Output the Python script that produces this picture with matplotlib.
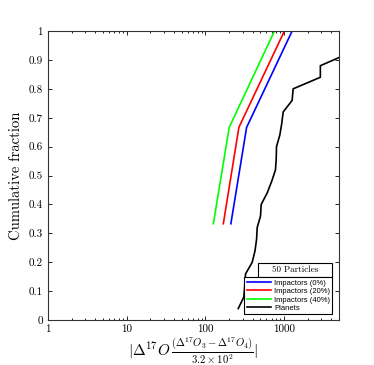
import numpy as np
import matplotlib
matplotlib.use("Agg")
import matplotlib.pyplot as plt
from matplotlib.patches import Rectangle

plt.rcParams["font.family"] = "serif"
plt.rcParams["font.serif"] = ["cmr10"]
plt.rcParams["mathtext.fontset"] = "cm"
plt.rcParams["axes.formatter.use_mathtext"] = True

# impactor CDFs (three particles each)
imp_frac = [1 / 3, 2 / 3, 1.0]
imp_0 = [212, 336, 1274]
imp_20 = [170, 268, 1016]
imp_40 = [127, 202, 760]

# planet CDF (25 planets)
planets = [263, 310, 318, 326, 396, 430, 450, 458, 505, 515, 614, 700, 783,
           800, 806, 888, 940, 980, 1274, 1312, 2910, 2910, 6300, 8000, 10000]
planet_frac = np.arange(1, len(planets) + 1) / len(planets)

x_ticks = [1, 10, 100, 1000]
x_ticklabels = ["1", "10", "100", "1000"]
y_ticks = np.round(np.arange(0, 1.01, 0.1), 1)
y_ticklabels = ["0"] + [f"{v:.1f}" for v in y_ticks[1:-1]] + ["1"]

fig = plt.figure(figsize=(3.74, 3.65), dpi=100)
ax = fig.add_axes([0.128, 0.123, 0.778, 0.792])

ax.plot(imp_0, imp_frac, color="#0000ff", lw=1.2, label="Impactors (0%)")
ax.plot(imp_20, imp_frac, color="#ff0000", lw=1.2, label="Impactors (20%)")
ax.plot(imp_40, imp_frac, color="#00ff00", lw=1.2, label="Impactors (40%)")
ax.plot(planets, planet_frac, color="black", lw=1.2, label="Planets")

ax.set_xscale("log")
ax.set_xlim(1, 5000)
ax.set_ylim(0, 1)
ax.set_xticks(x_ticks)
ax.set_xticklabels(x_ticklabels)
ax.set_yticks(y_ticks)
ax.set_yticklabels(y_ticklabels)
ax.tick_params(which="both", direction="in", top=True, right=True, labelsize=8, width=0.6)
ax.tick_params(which="major", length=3)
ax.tick_params(which="minor", length=1.5)
for s in ax.spines.values():
    s.set_linewidth(0.8)
    s.set_color("#333333")

ax.set_ylabel("Cumulative fraction", fontsize=10.5)
ax.set_xlabel(r"$|\Delta^{17}O\,\frac{(\Delta^{17}O_3-\Delta^{17}O_4)}{3.2\times10^2}|$",
              fontsize=11, labelpad=1)

leg = ax.legend(loc="lower right", bbox_to_anchor=(0.978, 0.02), borderaxespad=0,
                prop={"family": "Liberation Sans", "size": 5.5}, fancybox=False,
                edgecolor="black", framealpha=1, handlelength=3.2, handletextpad=0.4,
                labelspacing=0.15, borderpad=0.3)
leg.get_frame().set_linewidth(0.8)

ax.add_patch(Rectangle((0.722, 0.149), 0.256, 0.049, transform=ax.transAxes,
                       fill=False, edgecolor="black", lw=0.8))
ax.text(0.85, 0.173, "50 Particles", transform=ax.transAxes, ha="center", va="center",
        fontsize=6.5)

fig.savefig("out.png", dpi=100)
